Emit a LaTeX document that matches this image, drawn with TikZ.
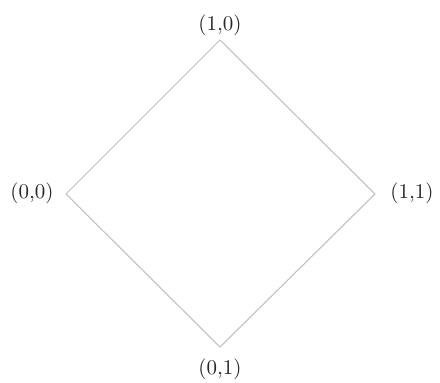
\documentclass[tikz,border=0pt]{standalone}
\begin{document}
\begin{tikzpicture}[x=0.4773pt,y=-0.4773pt,
  lbl/.style={text=black!85,inner sep=0pt,font=\fontsize{10}{12}\selectfont},
  edge/.style={draw=black!25,line width=0.5pt}]
\useasboundingbox (0,0) rectangle (440,383);
\coordinate (t) at (220,40);
\coordinate (l) at (66,194);
\coordinate (r) at (375,194);
\coordinate (b) at (220,347);
\node[lbl] (lt) at (220,25) {(1,0)};
\node[lbl] (ll) at (32,193) {(0,0)};
\node[lbl] (lr) at (412,193) {(1,1)};
\node[lbl] (lb) at (220,369) {(0,1)};
\draw[edge] (l) -- (t) -- (r) -- (b) -- cycle;
\end{tikzpicture}
\end{document}
